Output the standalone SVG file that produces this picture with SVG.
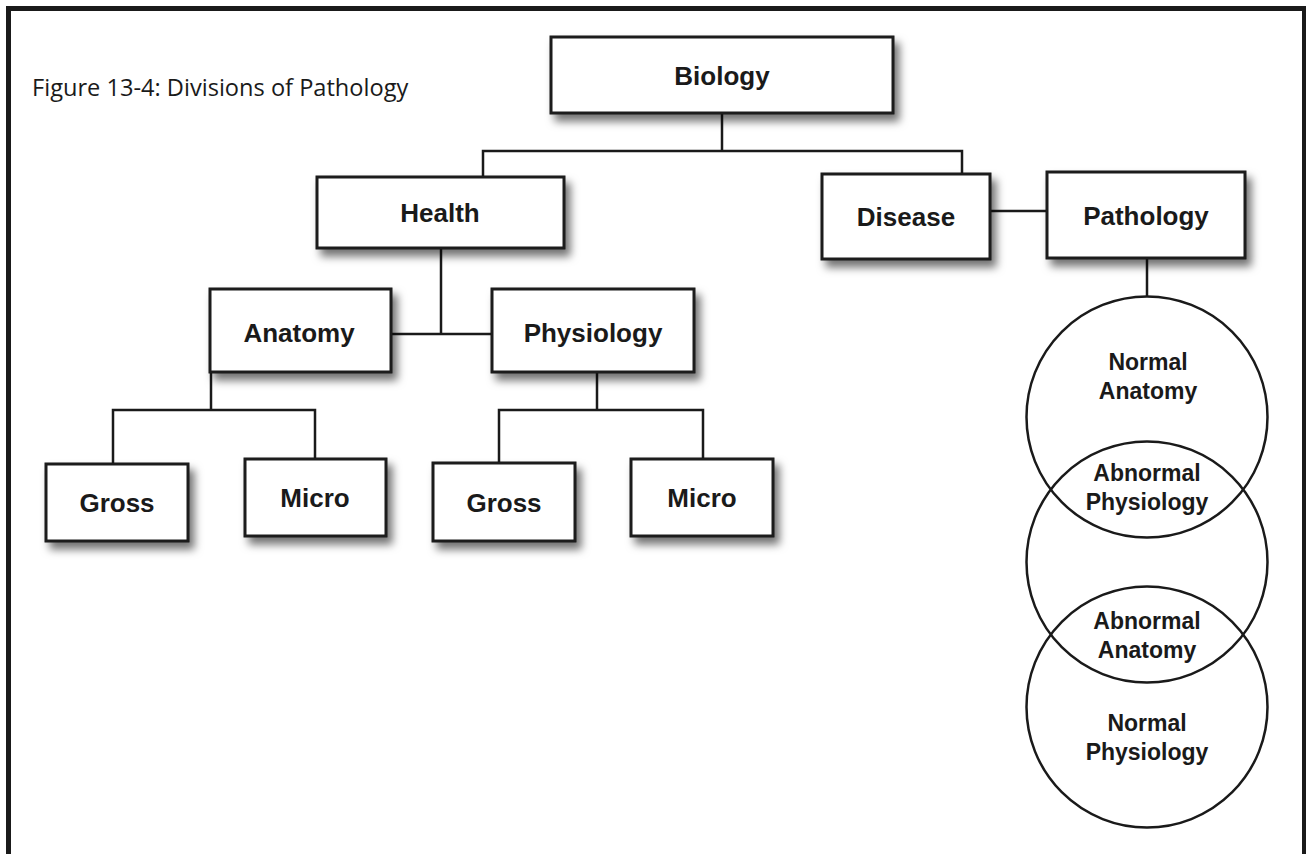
<svg xmlns="http://www.w3.org/2000/svg" width="1306" height="854" viewBox="0 0 1306 854">
<defs>
<filter id="sh" x="-20%" y="-20%" width="150%" height="160%">
<feDropShadow dx="5" dy="7" stdDeviation="4.5" flood-color="#000" flood-opacity="0.55"/>
</filter>
<style>
.box{fill:#fff;stroke:#1a1a1a;stroke-width:3;filter:url(#sh)}
.lbl{font-family:"Liberation Sans",Arial,sans-serif;font-weight:bold;font-size:26px;fill:#1a1a1a;text-anchor:middle}
.clbl{font-family:"Liberation Sans",Arial,sans-serif;font-weight:bold;font-size:23px;fill:#1a1a1a;text-anchor:middle}
.ln{fill:none;stroke:#1a1a1a;stroke-width:2.5}
.circ{fill:none;stroke:#1a1a1a;stroke-width:2.5}
</style>
</defs>
<rect width="1306" height="854" fill="#fff"/>
<path d="M8.5,854 V8.5 H1304.5 V854" fill="none" stroke="#1a1a1a" stroke-width="5"/>
<text x="32" y="96" font-family="'Open Sans',sans-serif" font-size="23.6" fill="#1a1a1a">Figure 13-4: Divisions of Pathology</text>

<g id="connectors">
<path class="ln" d="M722,113 V151"/>
<path class="ln" d="M483,177 V151 H962 V174"/>
<path class="ln" d="M441,248 V334"/>
<path class="ln" d="M391,334 H492"/>
<path class="ln" d="M990,211 H1047"/>
<path class="ln" d="M1147,258 V296"/>
<path class="ln" d="M211,372 V410"/>
<path class="ln" d="M113,464 V410 H315 V459"/>
<path class="ln" d="M597,372 V410"/>
<path class="ln" d="M499,463 V410 H703 V459"/>
</g>

<g id="biology"><rect class="box" x="551" y="37" width="342" height="76"/><text class="lbl" x="722" y="85">Biology</text></g>
<g id="health"><rect class="box" x="317" y="177" width="247" height="71"/><text class="lbl" x="440" y="222">Health</text></g>
<g id="disease"><rect class="box" x="822" y="174" width="168" height="85"/><text class="lbl" x="906" y="226">Disease</text></g>
<g id="pathology"><rect class="box" x="1047" y="172" width="198" height="86"/><text class="lbl" x="1146" y="225">Pathology</text></g>
<g id="anatomy"><rect class="box" x="210" y="289" width="181" height="83"/><text class="lbl" x="299" y="342">Anatomy</text></g>
<g id="physiology"><rect class="box" x="492" y="289" width="202" height="83"/><text class="lbl" x="593" y="342">Physiology</text></g>
<g id="gross1"><rect class="box" x="46" y="464" width="142" height="77"/><text class="lbl" x="117" y="512">Gross</text></g>
<g id="micro1"><rect class="box" x="245" y="459" width="141" height="77"/><text class="lbl" x="315" y="507">Micro</text></g>
<g id="gross2"><rect class="box" x="433" y="463" width="142" height="78"/><text class="lbl" x="504" y="512">Gross</text></g>
<g id="micro2"><rect class="box" x="631" y="459" width="142" height="77"/><text class="lbl" x="702" y="507">Micro</text></g>

<g id="circles">
<circle class="circ" cx="1147" cy="417" r="120.5"/>
<circle class="circ" cx="1147" cy="562" r="120.5"/>
<circle class="circ" cx="1147" cy="707" r="120.5"/>
</g>
<g id="normal-anatomy"><text class="clbl" x="1148" y="370">Normal</text><text class="clbl" x="1148" y="399">Anatomy</text></g>
<g id="abnormal-physiology"><text class="clbl" x="1147" y="481">Abnormal</text><text class="clbl" x="1147" y="510">Physiology</text></g>
<g id="abnormal-anatomy"><text class="clbl" x="1147" y="629">Abnormal</text><text class="clbl" x="1147" y="658">Anatomy</text></g>
<g id="normal-physiology"><text class="clbl" x="1147" y="731">Normal</text><text class="clbl" x="1147" y="760">Physiology</text></g>
</svg>
